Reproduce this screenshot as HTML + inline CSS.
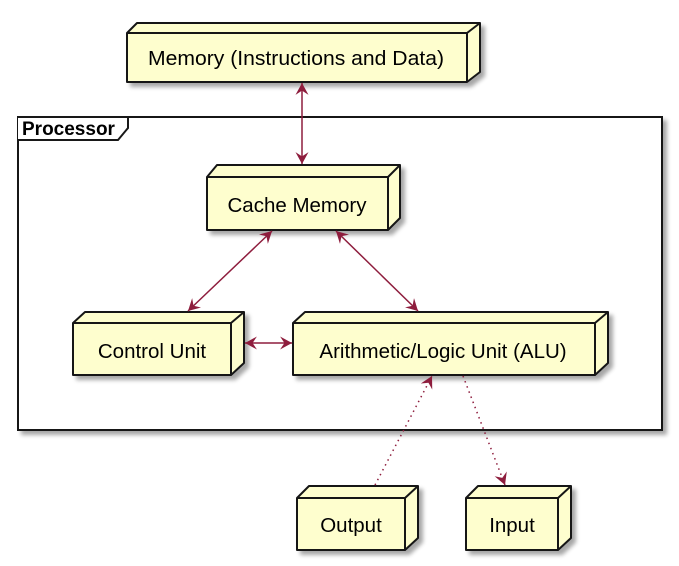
<!DOCTYPE html>
<html><head><meta charset="utf-8"><style>
html,body{margin:0;padding:0;background:#fff;}
svg{display:block;}
text{font-family:"Liberation Sans",Arial,sans-serif;font-size:20.5px;fill:#000;}
</style></head><body>
<svg width="679" height="566" viewBox="0 0 679 566" xmlns="http://www.w3.org/2000/svg">
<defs>
<filter id="sh" x="-10%" y="-10%" width="130%" height="140%"><feGaussianBlur in="SourceAlpha" stdDeviation="2"/><feOffset dx="4" dy="4"/><feComponentTransfer><feFuncA type="linear" slope="0.35"/></feComponentTransfer><feMerge><feMergeNode/><feMergeNode in="SourceGraphic"/></feMerge></filter>
<marker id="ah" viewBox="0 0 12 12" refX="11" refY="6" markerWidth="13" markerHeight="13" orient="auto-start-reverse" markerUnits="userSpaceOnUse"><path d="M0,0 L11,6 L0,12 L4,6 Z" fill="#8e1d3d"/></marker>
</defs>
<g stroke="#181818" stroke-width="2" fill="#FEFECE">
<rect x="18" y="117" width="644" height="313" fill="#fff" filter="url(#sh)"/>
<path d="M18,117 L128,117 L128,128 L118,140 L18,140" fill="#fff"/>
</g>
<text x="22" y="135" style="font-weight:bold;font-size:19px">Processor</text>
<g stroke="#181818" stroke-width="2" fill="#FEFECE" stroke-linejoin="round">
<g filter="url(#sh)"><path d="M127,33 L137,23 L480,23 L480,72 L467,82 L127,82 Z"/><path d="M127,33 L467,33 L480,23 M467,33 L467,82" fill="none"/></g>
<g filter="url(#sh)"><path d="M207,177 L217,165 L400,165 L400,218 L388,230 L207,230 Z"/><path d="M207,177 L388,177 L400,165 M388,177 L388,230" fill="none"/></g>
<g filter="url(#sh)"><path d="M73,323 L85,312 L244,312 L244,363 L231,375 L73,375 Z"/><path d="M73,323 L231,323 L244,312 M231,323 L231,375" fill="none"/></g>
<g filter="url(#sh)"><path d="M293,323 L305,312 L608,312 L608,363 L595,375 L293,375 Z"/><path d="M293,323 L595,323 L608,312 M595,323 L595,375" fill="none"/></g>
<g filter="url(#sh)"><path d="M297,498 L309,486 L418,486 L418,538 L405,550 L297,550 Z"/><path d="M297,498 L405,498 L418,486 M405,498 L405,550" fill="none"/></g>
<g filter="url(#sh)"><path d="M466,498 L478,486 L571,486 L571,538 L558,550 L466,550 Z"/><path d="M466,498 L558,498 L571,486 M558,498 L558,550" fill="none"/></g>
</g>
<text x="296" y="65" text-anchor="middle" textLength="296" lengthAdjust="spacingAndGlyphs">Memory (Instructions and Data)</text>
<text x="297" y="212" text-anchor="middle">Cache Memory</text>
<text x="152" y="358" text-anchor="middle">Control Unit</text>
<text x="443" y="358" text-anchor="middle">Arithmetic/Logic Unit (ALU)</text>
<text x="351" y="532" text-anchor="middle">Output</text>
<text x="512" y="532" text-anchor="middle">Input</text>
<g stroke="#8e1d3d" stroke-width="1.5" fill="none">
<line x1="302" y1="83" x2="302" y2="164" marker-start="url(#ah)" marker-end="url(#ah)"/>
<line x1="272" y1="231" x2="188" y2="311" marker-start="url(#ah)" marker-end="url(#ah)"/>
<line x1="336" y1="231" x2="418" y2="311" marker-start="url(#ah)" marker-end="url(#ah)"/>
<line x1="245" y1="343" x2="292" y2="343" marker-start="url(#ah)" marker-end="url(#ah)"/>
<line x1="375" y1="485" x2="432" y2="376" stroke-dasharray="1.5,4" marker-end="url(#ah)"/>
<line x1="463" y1="376" x2="505" y2="485" stroke-dasharray="1.5,4" marker-end="url(#ah)"/>
</g>
</svg>
</body></html>
